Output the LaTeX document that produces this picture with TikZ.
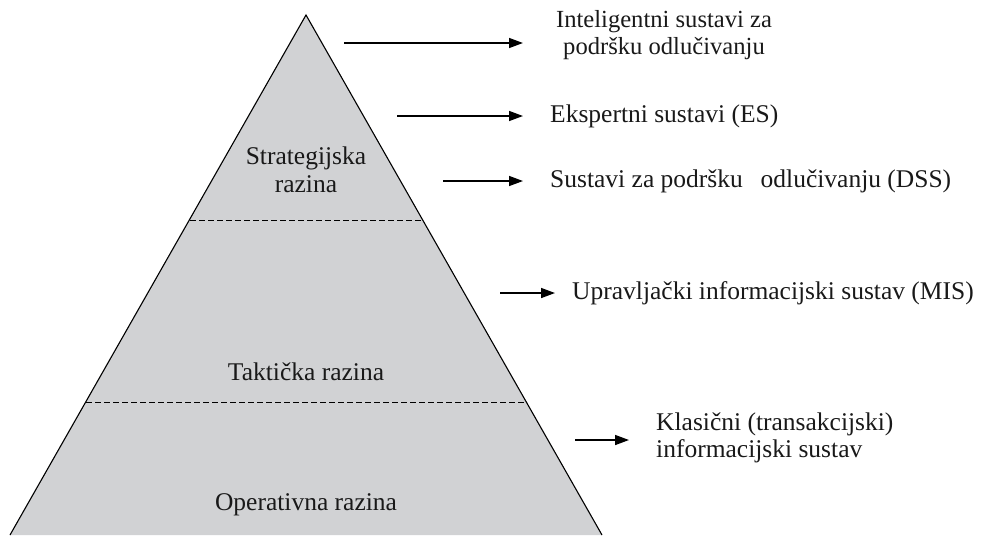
\documentclass[tikz,border=0pt]{standalone}
\usepackage{fontspec}
\setmainfont{Liberation Serif}
\usetikzlibrary{arrows.meta}
\definecolor{pyr}{HTML}{D1D2D4}
\begin{document}
\begin{tikzpicture}[x=1pt,y=-1pt,
  lbl/.style={font=\fontsize{25.5}{27.5}\selectfont, inner sep=0pt, text=black!90},
  arr/.style={line width=1.5pt, -{Triangle[length=14pt,width=10pt]}},
  level/.style={dashed, line width=0.8pt, dash pattern=on 6pt off 3pt}]
\useasboundingbox (0,0) rectangle (984,535);
% pyramid
\coordinate (apex) at (306,15);
\coordinate (bl) at (10,535);
\coordinate (br) at (602,535);
\fill[pyr] (bl) -- (apex) -- (br) -- cycle;
\draw[line width=1.1pt] (bl) -- (apex) -- (br);
% dashed level lines
\coordinate (d1l) at (190,220); \coordinate (d1r) at (422,220);
\coordinate (d2l) at (86,402);  \coordinate (d2r) at (527,402);
\draw[level] (d1l) -- (d1r);
\draw[level] (d2l) -- (d2r);
% level labels
\node[lbl, align=center] (strat) at (306,170) {Strategijska\\razina};
\node[lbl] (takt) at (306,372) {Takti\v{c}ka razina};
\node[lbl] (oper) at (306,505) {Operativna razina};
% right labels
\node[lbl, font=\fontsize{24.6}{27.5}\selectfont, align=center] (isd) at (664,35) {Inteligentni sustavi za\\podr\v{s}ku odlu\v{c}ivanju};
\node[lbl, anchor=west] (es) at (550,116) {Ekspertni sustavi (ES)};
\node[lbl, anchor=west] (dss) at (550,181) {Sustavi za podr\v{s}ku\hspace{0.7em}odlu\v{c}ivanju (DSS)};
\node[lbl, anchor=west] (mis) at (572,293) {Upravlja\v{c}ki informacijski sustav (MIS)};
\node[lbl, anchor=west, align=left] (tps) at (656,438) {Klasi\v{c}ni (transakcijski)\\informacijski sustav};
% arrows
\coordinate (a1s) at (344,43);  \coordinate (a1e) at (523,43);
\coordinate (a2s) at (397,116); \coordinate (a2e) at (523,116);
\coordinate (a3s) at (443,181); \coordinate (a3e) at (523,181);
\coordinate (a4s) at (500,293); \coordinate (a4e) at (555,293);
\coordinate (a5s) at (575,440); \coordinate (a5e) at (629,440);
\draw[arr] (a1s) -- (a1e);
\draw[arr] (a2s) -- (a2e);
\draw[arr] (a3s) -- (a3e);
\draw[arr] (a4s) -- (a4e);
\draw[arr] (a5s) -- (a5e);
\end{tikzpicture}
\end{document}
